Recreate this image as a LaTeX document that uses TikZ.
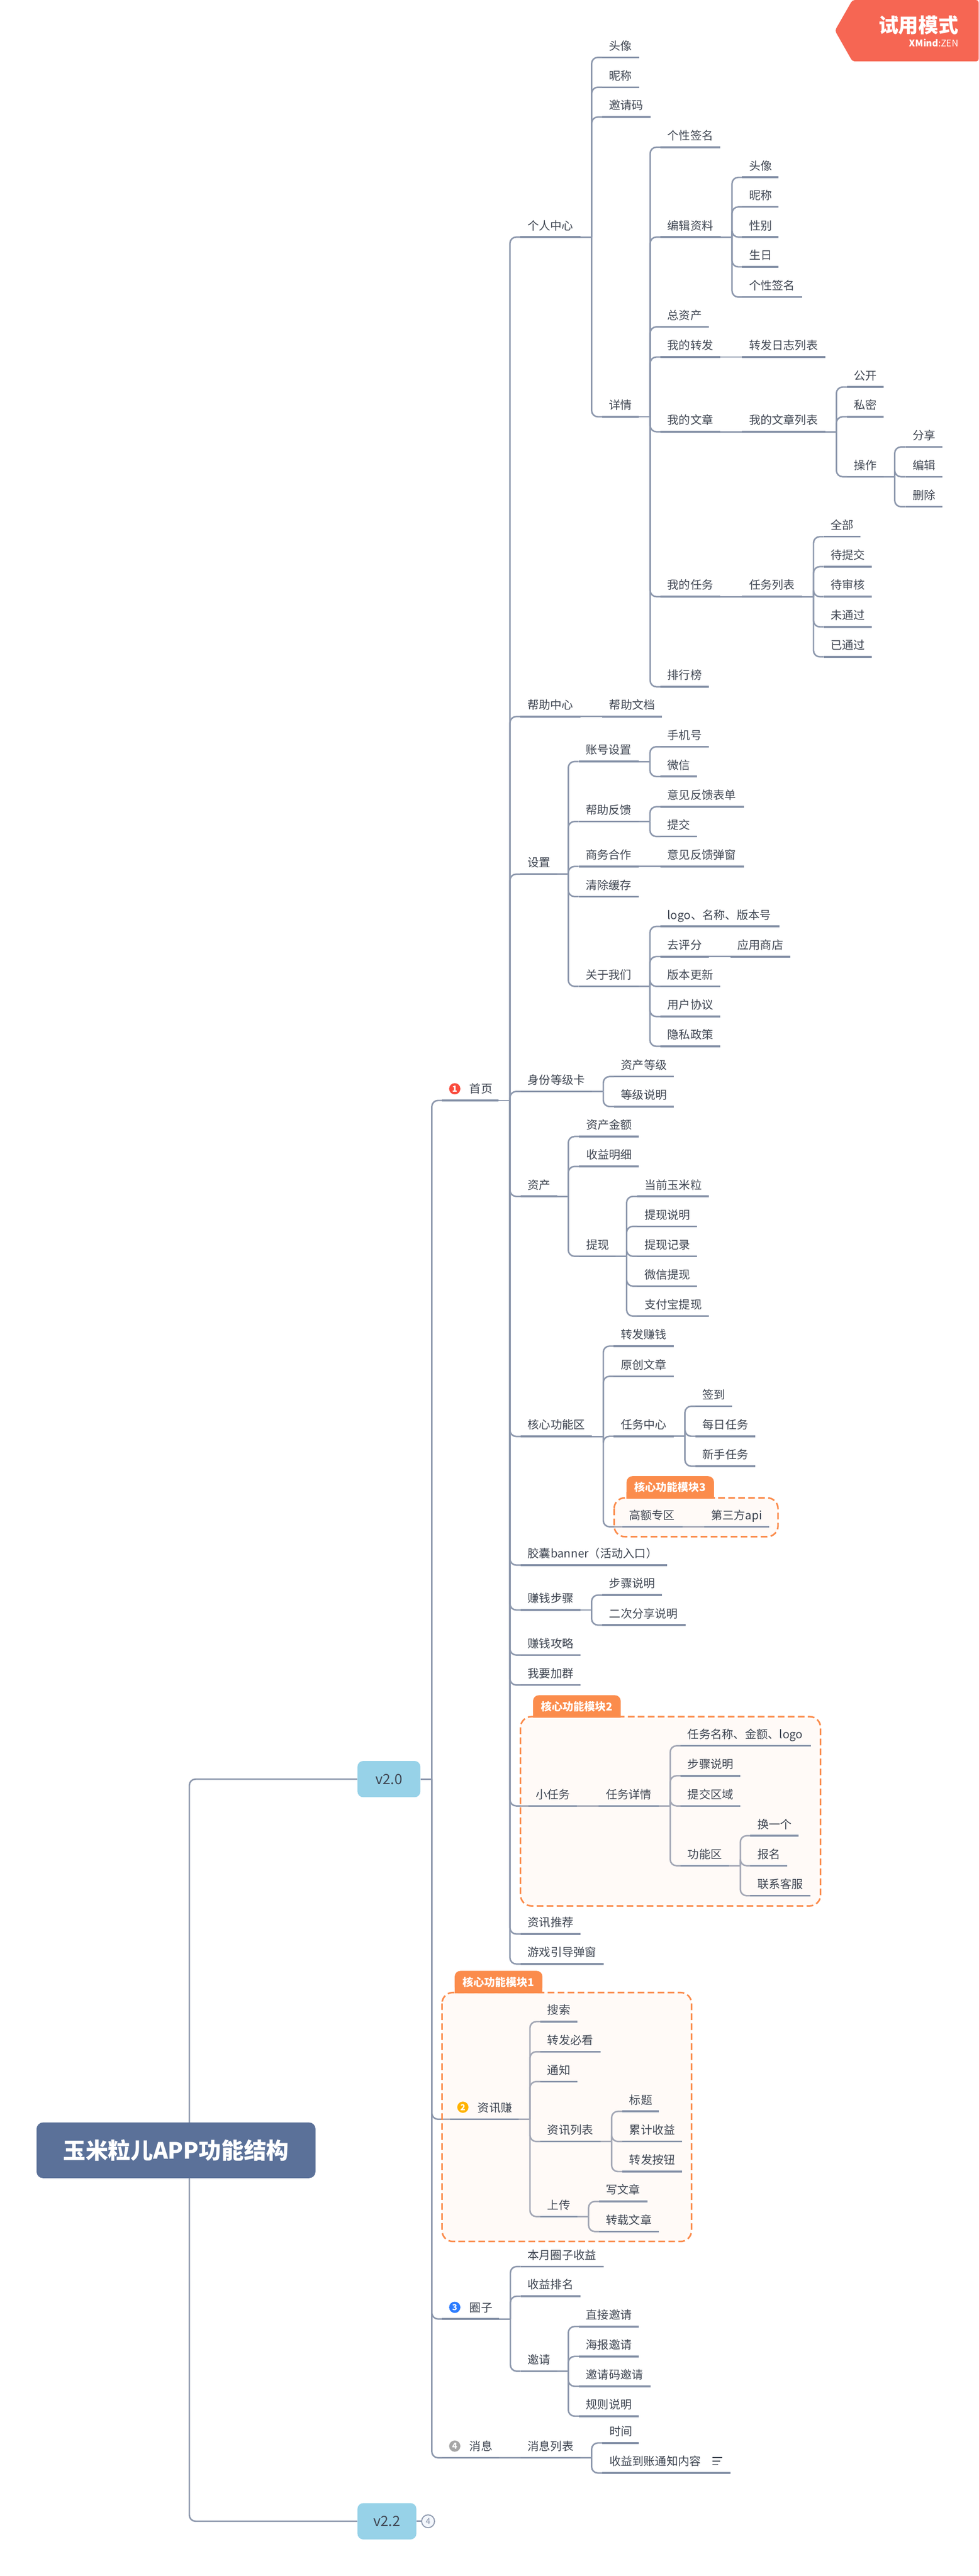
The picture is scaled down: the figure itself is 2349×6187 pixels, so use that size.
\documentclass[tikz,border=0pt]{standalone}
\usepackage{fontspec}
\setmainfont{Noto Sans CJK SC}
\pgfdeclarelayer{bg}
\pgfdeclarelayer{mid}
\pgfsetlayers{bg,mid,main}
\definecolor{ulc}{HTML}{8591A7}
\definecolor{conc}{HTML}{8D98AD}
\definecolor{txtc}{HTML}{3F4652}
\definecolor{orng}{HTML}{FB8C4C}
\definecolor{bfill}{HTML}{FFE6D7}
\definecolor{rootc}{HTML}{5B7199}
\definecolor{verc}{HTML}{97D2E8}
\definecolor{badge}{HTML}{F66653}
\definecolor{icred}{HTML}{FA4A3C}
\definecolor{icyel}{HTML}{FFB300}
\definecolor{icblu}{HTML}{2B7CFF}
\definecolor{icgry}{HTML}{A6A6A6}
\definecolor{foldf}{HTML}{F4F7FC}
\tikzset{
 topic/.style={anchor=south west,inner xsep=8.5pt,inner ysep=0pt,outer sep=0pt,align=left,text height=12pt,text depth=8.75pt,text=txtc,font=\fontsize{13.75pt}{16pt}\selectfont},
 ul/.style={draw=ulc,line width=2.2pt},
 con/.style={draw=conc,line width=1.8pt},
 elbow/.style={con,rounded corners=7.5pt},
 icon/.style={circle,minimum size=13.5pt,inner sep=0pt,text=white,font=\fontsize{10pt}{10pt}\selectfont\bfseries},
 boundary/.style={draw=orng,line width=1.9pt,dash pattern=on 8pt off 4pt,rounded corners=13pt},
 bfillst/.style={fill=bfill,fill opacity=.2,rounded corners=13pt},
 lab/.style={fill=orng,rounded corners=7pt,inner sep=0pt,text=white,font=\fontsize{13pt}{15pt}\selectfont\bfseries},
 ver/.style={fill=verc,rounded corners=7pt,inner sep=0pt,text=txtc,font=\fontsize{17pt}{20pt}\selectfont},
}
\newcommand{\Tp}[5]{%
 \pgfmathsetmacro{\tpS}{#2-17}\pgfmathsetmacro{\tpW}{(#4-#2-17)*0.5}%
 \node[topic,text width=\tpW pt] (#1) at (\tpS,#3) {#5};
 \draw[ul] (#1.south west) -- (#1.south east);}
% elbow connector from an anchor to a child
\newcommand{\CC}[2]{%
 \begin{pgfonlayer}{bg}
 \draw[con] (#1) -- ++(27,0) coordinate (tmpv);
 \draw[elbow] (tmpv) |- (#2.south west);
 \end{pgfonlayer}}
\newcommand{\Cn}[2]{\CC{#1.south east}{#2}}
\newcommand{\Sn}[2]{%
 \begin{pgfonlayer}{bg}
 \draw[con] (#1.south east) -- (#2.south west);
 \end{pgfonlayer}}
\newcommand{\Bnd}[4]{%
 \begin{pgfonlayer}{mid}
 \fill[bfillst] (#1,#2) rectangle (#3,#4);
 \end{pgfonlayer}
 \draw[boundary] (#1,#2) rectangle (#3,#4);}
\newcommand{\Lab}[6]{%
 \fill[orng] (#2,#5-15) rectangle (#4,#5);
 \pgfmathsetmacro{\lW}{(#4-#2)*.5}\pgfmathsetmacro{\lH}{(#5-#3)*.5}%
 \node[lab,minimum width=\lW pt,minimum height=\lH pt] (#1) at ({(#2+#4)/2},{(#3+#5)/2}) {#6};}
\begin{document}
\begin{tikzpicture}[x=.5pt,y=-.5pt]
\useasboundingbox (0,0) rectangle (2349,6187);
\begin{pgfonlayer}{bg}
\fill[white] (0,0) rectangle (2349,6187);
\end{pgfonlayer}
% badge
\fill[badge,rounded corners=3pt] (2046,0) -- (2349,0) -- (2349,147.5) -- (2046,147.5) -- (2004,73.5) -- cycle;
\node[inner sep=0pt,anchor=east,text=white,font=\fontsize{24pt}{26pt}\selectfont\bfseries] (trial) at (2301,60) {试用模式};
\node[inner sep=0pt,anchor=east,text=white,font=\fontsize{11pt}{12pt}\selectfont] (zen) at (2301,103) {\textbf{XMind}:ZEN};
% root and versions
\node[fill=rootc,rounded corners=8pt,minimum width=334.85pt,minimum height=67pt,inner sep=0pt,text=white,font=\fontsize{27pt}{30pt}\selectfont\bfseries] (root) at (422.5,5164.5) {玉米粒儿APP功能结构};
\node[ver,minimum width=75.5pt,minimum height=43.6pt] (v20) at (933.5,4273) {v2.0};
\node[ver,minimum width=70.7pt,minimum height=43.6pt] (v22) at (928.7,6055.5) {v2.2};
\coordinate (rootj) at (454.4,5164.5);
\begin{pgfonlayer}{bg}
\draw[elbow] (rootj) |- (v20.west);
\draw[elbow] (rootj) |- (v22.west);
\end{pgfonlayer}
\node[circle,draw=conc,fill=foldf,line width=1.2pt,minimum size=15.5pt,inner sep=0pt,text=conc,font=\fontsize{10pt}{10pt}\selectfont] (fold) at (1027.5,6055.5) {4};
\begin{pgfonlayer}{bg}
\draw[con] (v22.east) -- (fold.west);
\end{pgfonlayer}
% level 1
\node[icon,fill=icred] (ic1) at (1091.5,2615) {1};
\Tp{home}{1078}{2643}{1197}{\hspace*{24.5pt}首页}
\node[icon,fill=icyel] (ic2) at (1111,5061) {2};
\Tp{zxz}{1097}{5090}{1245}{\hspace*{25pt}资讯赚}
\node[icon,fill=icblu] (ic3) at (1091.5,5541.6) {3};
\Tp{qz}{1078}{5569.7}{1198}{\hspace*{24.5pt}圈子}
\node[icon,fill=icgry] (ic4) at (1091.5,5875) {4};
\Tp{xx}{1078}{5903}{1198}{\hspace*{24.5pt}消息}
\CC{v20.east}{home}\CC{v20.east}{zxz}\CC{v20.east}{qz}\CC{v20.east}{xx}
% home children
\Tp{pc}{1266}{569.4}{1393}{个人中心}
\Tp{help}{1266}{1721}{1393}{帮助中心}
\Tp{set}{1266}{2099.5}{1337}{设置}
\Tp{idc}{1266.6}{2621.4}{1421}{身份等级卡}
\Tp{ass}{1266.6}{2873.5}{1337}{资产}
\Tp{core}{1266.6}{3450}{1421}{核心功能区}
\Tp{cap}{1266.6}{3759}{1601.4}{胶囊banner（活动入口）}
\Tp{stp}{1266.6}{3866.8}{1393}{赚钱步骤}
\Tp{gl}{1266.6}{3975}{1393.5}{赚钱攻略}
\Tp{grp}{1266.6}{4047}{1393.5}{我要加群}
\Bnd{1249.4}{4123}{1969.5}{4577.5}
\Lab{lab2}{1279.4}{4071.5}{1489.8}{4125}{核心功能模块2}
\Tp{small}{1285.7}{4337.4}{1385}{小任务}
\Tp{news}{1266.6}{4645}{1393.5}{资讯推荐}
\Tp{game}{1266.6}{4717}{1449.5}{游戏引导弹窗}
\Cn{home}{pc}\Cn{home}{help}\Cn{home}{set}\Cn{home}{idc}\Cn{home}{ass}\Cn{home}{core}\Cn{home}{cap}\Cn{home}{stp}\Cn{home}{gl}\Cn{home}{grp}\Cn{home}{small}\Cn{home}{news}\Cn{home}{game}
% personal centre
\Tp{a1}{1462}{137.8}{1534}{头像}
\Tp{a2}{1462}{209.5}{1534}{昵称}
\Tp{a3}{1462}{281}{1562}{邀请码}
\Tp{a4}{1462}{1001}{1533.5}{详情}
\Cn{pc}{a1}\Cn{pc}{a2}\Cn{pc}{a3}\Cn{pc}{a4}
\Tp{b1}{1602}{353.6}{1729}{个性签名}
\Tp{b2}{1602}{569.4}{1730}{编辑资料}
\Tp{b3}{1602}{785}{1701}{总资产}
\Tp{b4}{1602}{857.5}{1729}{我的转发}
\Tp{b5}{1602}{1037}{1729}{我的文章}
\Tp{b6}{1602}{1433}{1729}{我的任务}
\Tp{b7}{1602}{1649.5}{1701}{排行榜}
\Cn{a4}{b1}\Cn{a4}{b2}\Cn{a4}{b3}\Cn{a4}{b4}\Cn{a4}{b5}\Cn{a4}{b6}\Cn{a4}{b7}
\Tp{c1}{1798}{426}{1869}{头像}
\Tp{c2}{1798}{497}{1869}{昵称}
\Tp{c3}{1798}{569.4}{1869}{性别}
\Tp{c4}{1798}{641}{1869}{生日}
\Tp{c5}{1798}{713.5}{1925.5}{个性签名}
\Cn{b2}{c1}\Cn{b2}{c2}\Cn{b2}{c3}\Cn{b2}{c4}\Cn{b2}{c5}
\Tp{d1}{1798}{857.5}{1981}{转发日志列表}
\Sn{b4}{d1}
\Tp{e1}{1798}{1037}{1980.5}{我的文章列表}
\Sn{b5}{e1}
\Tp{e2}{2050}{929.6}{2121}{公开}
\Tp{e3}{2050}{1001}{2121}{私密}
\Tp{e4}{2050}{1145}{2120.5}{操作}
\Cn{e1}{e2}\Cn{e1}{e3}\Cn{e1}{e4}
\Tp{e5}{2190.7}{1073.5}{2262}{分享}
\Tp{e6}{2190.7}{1145}{2262}{编辑}
\Tp{e7}{2190.7}{1217}{2262}{删除}
\Cn{e4}{e5}\Cn{e4}{e6}\Cn{e4}{e7}
\Tp{f1}{1798}{1433}{1925.6}{任务列表}
\Sn{b6}{f1}
\Tp{f2}{1994}{1289}{2065.5}{全部}
\Tp{f3}{1994}{1361}{2093}{待提交}
\Tp{f4}{1994}{1433}{2093}{待审核}
\Tp{f5}{1994}{1505.6}{2093}{未通过}
\Tp{f6}{1994}{1577.5}{2093}{已通过}
\Cn{f1}{f2}\Cn{f1}{f3}\Cn{f1}{f4}\Cn{f1}{f5}\Cn{f1}{f6}
% help
\Tp{g1}{1462.4}{1721}{1589}{帮助文档}
\Sn{help}{g1}
% settings
\Tp{h1}{1406}{1829}{1533}{账号设置}
\Tp{h2}{1406}{1973}{1533}{帮助反馈}
\Tp{h3}{1406}{2081}{1533}{商务合作}
\Tp{h4}{1406}{2153.4}{1533.5}{清除缓存}
\Tp{h5}{1406}{2369}{1533}{关于我们}
\Cn{set}{h1}\Cn{set}{h2}\Cn{set}{h3}\Cn{set}{h4}\Cn{set}{h5}
\Tp{i1}{1602}{1793.5}{1701}{手机号}
\Tp{i2}{1602}{1865}{1673.5}{微信}
\Cn{h1}{i1}\Cn{h1}{i2}
\Tp{i3}{1602}{1937.6}{1785.6}{意见反馈表单}
\Tp{i4}{1602}{2009}{1673.5}{提交}
\Cn{h2}{i3}\Cn{h2}{i4}
\Tp{i5}{1602}{2081}{1785.6}{意见反馈弹窗}
\Sn{h3}{i5}
\Tp{j1}{1602}{2225}{1871}{logo、名称、版本号}
\Tp{j2}{1602}{2297.5}{1701}{去评分}
\Tp{j3}{1602}{2369}{1729}{版本更新}
\Tp{j4}{1602}{2441.5}{1729}{用户协议}
\Tp{j5}{1602}{2513}{1729}{隐私政策}
\Tp{j6}{1770}{2297.5}{1897}{应用商店}
\Cn{h5}{j1}\Cn{h5}{j2}\Cn{h5}{j3}\Cn{h5}{j4}\Cn{h5}{j5}\Sn{j2}{j6}
% identity card
\Tp{k1}{1490.5}{2585.7}{1617.4}{资产等级}
\Tp{k2}{1490.5}{2657.6}{1617.4}{等级说明}
\Cn{idc}{k1}\Cn{idc}{k2}
% assets
\Tp{l1}{1407}{2729.6}{1533}{资产金额}
\Tp{l2}{1407}{2801.5}{1533}{收益明细}
\Tp{l3}{1407}{3017.3}{1477}{提现}
\Cn{ass}{l1}\Cn{ass}{l2}\Cn{ass}{l3}
\Tp{m1}{1547}{2873.5}{1701.6}{当前玉米粒}
\Tp{m2}{1547}{2945.4}{1673.5}{提现说明}
\Tp{m3}{1547}{3017.3}{1673.5}{提现记录}
\Tp{m4}{1547}{3089}{1673.5}{微信提现}
\Tp{m5}{1547}{3161}{1701.6}{支付宝提现}
\Cn{l3}{m1}\Cn{l3}{m2}\Cn{l3}{m3}\Cn{l3}{m4}\Cn{l3}{m5}
% core
\Bnd{1474}{3597.4}{1867.4}{3690.8}
\Lab{lab3}{1504}{3545.4}{1713.7}{3599}{核心功能模块3}
\Tp{n1}{1490}{3233}{1617}{转发赚钱}
\Tp{n2}{1490}{3305.6}{1617}{原创文章}
\Tp{n3}{1490}{3449.5}{1617}{任务中心}
\Tp{n4}{1510}{3667}{1637.8}{高额专区}
\Tp{n5}{1706.7}{3667}{1846.4}{第三方api}
\Cn{core}{n1}\Cn{core}{n2}\Cn{core}{n3}\Cn{core}{n4}\Sn{n4}{n5}
\Tp{o1}{1686}{3377.5}{1757.7}{签到}
\Tp{o2}{1686}{3449.5}{1813}{每日任务}
\Tp{o3}{1686}{3521.4}{1813}{新手任务}
\Cn{n3}{o1}\Cn{n3}{o2}\Cn{n3}{o3}
% steps
\Tp{p1}{1462.4}{3831}{1589.3}{步骤说明}
\Tp{p2}{1462.4}{3903}{1645.5}{二次分享说明}
\Cn{stp}{p1}\Cn{stp}{p2}
% small task
\Tp{q1}{1454}{4337.4}{1581.7}{任务详情}
\Sn{small}{q1}
\Tp{q2}{1650.6}{4193}{1947}{任务名称、金额、logo}
\Tp{q3}{1650.6}{4265}{1777.5}{步骤说明}
\Tp{q4}{1650.6}{4337.4}{1777.5}{提交区域}
\Tp{q5}{1650.6}{4481}{1750}{功能区}
\Cn{q1}{q2}\Cn{q1}{q3}\Cn{q1}{q4}\Cn{q1}{q5}
\Tp{q6}{1818}{4409}{1917}{换一个}
\Tp{q7}{1818}{4481}{1889.7}{报名}
\Tp{q8}{1818}{4553}{1945}{联系客服}
\Cn{q5}{q6}\Cn{q5}{q7}\Cn{q5}{q8}
% news earn
\Bnd{1061}{4785.6}{1659.7}{5383.5}
\Lab{lab1}{1091.3}{4733.5}{1302}{4787}{核心功能模块1}
\Tp{r1}{1314}{4855.5}{1385.7}{搜索}
\Tp{r2}{1314}{4927.7}{1441.3}{转发必看}
\Tp{r3}{1314}{4999.4}{1385.7}{通知}
\Tp{r4}{1314}{5143.4}{1441}{资讯列表}
\Tp{r5}{1314}{5323.7}{1385.7}{上传}
\Cn{zxz}{r1}\Cn{zxz}{r2}\Cn{zxz}{r3}\Cn{zxz}{r4}\Cn{zxz}{r5}
\Tp{s1}{1510.7}{5071}{1581.6}{标题}
\Tp{s2}{1510.7}{5143.4}{1637}{累计收益}
\Tp{s3}{1510.7}{5215.6}{1637}{转发按钮}
\Cn{r4}{s1}\Cn{r4}{s2}\Cn{r4}{s3}
\Tp{s4}{1454.6}{5287.4}{1553.6}{写文章}
\Tp{s5}{1454.6}{5359.6}{1581.6}{转载文章}
\Cn{r5}{s4}\Cn{r5}{s5}
% circle
\Tp{t1}{1266.3}{5443.7}{1449.4}{本月圈子收益}
\Tp{t2}{1266.3}{5515}{1393}{收益排名}
\Tp{t3}{1266.3}{5695}{1337}{邀请}
\Cn{qz}{t1}\Cn{qz}{t2}\Cn{qz}{t3}
\Tp{u1}{1406.4}{5587.7}{1533}{直接邀请}
\Tp{u2}{1406.4}{5659.5}{1533}{海报邀请}
\Tp{u3}{1406.4}{5731.3}{1561.4}{邀请码邀请}
\Tp{u4}{1406.4}{5803}{1533}{规则说明}
\Cn{t3}{u1}\Cn{t3}{u2}\Cn{t3}{u3}\Cn{t3}{u4}
% messages
\Tp{w1}{1266.3}{5903}{1393}{消息列表}
\Sn{xx}{w1}
\Tp{w2}{1462.6}{5867.4}{1533}{时间}
\Tp{w3}{1462.6}{5939.6}{1753.7}{收益到账通知内容}
\Cn{w1}{w2}\Cn{w1}{w3}
% note marker
\draw[txtc,line width=1.2pt] (1709.5,5902) -- (1734,5902) (1709.5,5910.5) -- (1729,5910.5) (1709.5,5919) -- (1724,5919);
\end{tikzpicture}
\end{document}
